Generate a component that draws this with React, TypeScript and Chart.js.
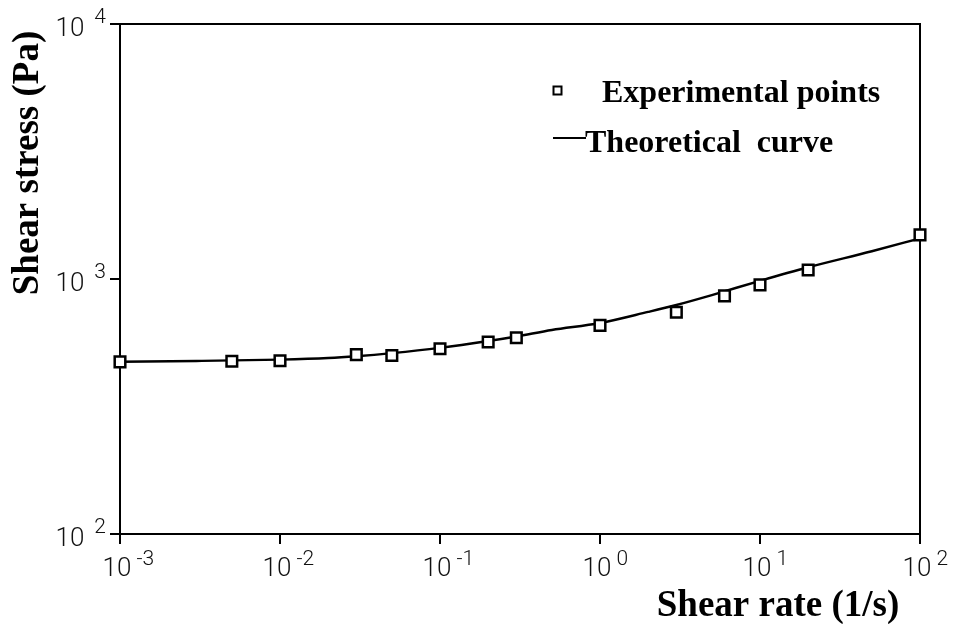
import React, { useEffect, useRef } from "react";
import { Chart, registerables } from "chart.js";

Chart.register(...registerables);

// Experimental points (shear rate 1/s, shear stress Pa)
const expRate = [0.001, 0.005, 0.01, 0.03, 0.05, 0.1, 0.2, 0.3, 1, 3, 6, 10, 20, 100];
const expStress = [473, 476, 478, 505, 501, 533, 566, 588, 658, 741, 859, 948, 1084, 1489];

// Theoretical curve
const theoRate = [0.001, 0.003, 0.01, 0.02, 0.03, 0.05, 0.1, 0.2, 0.3, 0.5, 1, 2, 3, 5, 10, 20, 50, 100];
const theoStress = [474, 477, 483, 490, 498, 512, 537, 571, 595, 631, 672, 743, 791, 865, 984, 1112, 1285, 1443];

// Axis ticks (powers of ten)
const xTickExps = [-3, -2, -1, 0, 1, 2];
const yTickExps = [2, 3, 4];

const xTitle = "Shear rate (1/s)";
const yTitle = "Shear stress (Pa)";
const legendExp = "Experimental points";
const legendTheo = "Theoretical  curve";

const TICK_FONT = "300 26px Roboto, 'Open Sans', 'Liberation Sans', sans-serif";
const EXP_FONT = "300 21px Roboto, 'Open Sans', 'Liberation Sans', sans-serif";
const TITLE_FONT = "bold 37px 'Liberation Serif', 'DejaVu Serif', serif";
const LEGEND_FONT = "bold 32px 'Liberation Serif', 'DejaVu Serif', serif";

const expLabel = (e: number) => (e < 0 ? "-" + Math.abs(e) : String(e));

const decorPlugin = {
  id: "decor",
  beforeDatasetsDraw(chart: any) {
    const { ctx, chartArea: ca } = chart;
    ctx.save();
    ctx.strokeStyle = "#000";
    ctx.lineWidth = 2;
    ctx.beginPath();
    ctx.moveTo(ca.left, ca.top);
    ctx.lineTo(ca.right, ca.top);
    ctx.lineTo(ca.right, ca.bottom);
    ctx.stroke();
    ctx.restore();
  },
  afterDraw(chart: any) {
    const { ctx, chartArea: ca, scales } = chart;
    ctx.save();
    ctx.fillStyle = "#111";
    ctx.textBaseline = "alphabetic";

    // x tick labels
    xTickExps.forEach((e) => {
      const px = scales.x.getPixelForValue(Math.pow(10, e));
      ctx.font = TICK_FONT;
      ctx.textAlign = "center";
      const w10 = ctx.measureText("10").width;
      const cx = px - 3;
      ctx.fillText("10", cx, ca.bottom + 42);
      ctx.font = EXP_FONT;
      ctx.textAlign = "left";
      ctx.fillText(expLabel(e), cx + w10 / 2 + 5, ca.bottom + 31);
    });

    // y tick labels
    yTickExps.forEach((e) => {
      const py = scales.y.getPixelForValue(Math.pow(10, e));
      ctx.font = EXP_FONT;
      ctx.textAlign = "right";
      const expStr = expLabel(e);
      const ew = ctx.measureText(expStr).width;
      const ex = ca.left - 14;
      ctx.fillText(expStr, ex, py - 1);
      ctx.font = TICK_FONT;
      ctx.fillText("10", ex - ew - 10, py + 12);
    });

    // axis titles
    ctx.fillStyle = "#000";
    ctx.font = TITLE_FONT;
    ctx.textAlign = "center";
    ctx.fillText(xTitle, 778, ca.bottom + 82);
    ctx.save();
    ctx.translate(38, 163);
    ctx.rotate(-Math.PI / 2);
    ctx.fillText(yTitle, 0, 0);
    ctx.restore();

    // legend
    ctx.font = LEGEND_FONT;
    ctx.textAlign = "left";
    ctx.fillText(legendExp, 602, 102);
    ctx.fillText(legendTheo, 585, 152);
    ctx.strokeStyle = "#000";
    ctx.lineWidth = 2;
    ctx.strokeRect(553.5, 86.5, 8, 8);
    ctx.beginPath();
    ctx.moveTo(553, 138);
    ctx.lineTo(586, 138);
    ctx.stroke();
    ctx.restore();
  },
};

export default function App() {
  const ref = useRef<HTMLCanvasElement | null>(null);

  useEffect(() => {
    if (!ref.current) return;
    const chart = new Chart(ref.current, {
      type: "scatter",
      data: {
        datasets: [
          {
            label: "Experimental points",
            data: expRate.map((x, i) => ({ x, y: expStress[i] })),
            pointStyle: "rect",
            pointRadius: 7.5,
            pointBorderWidth: 2.5,
            pointBorderColor: "#000",
            pointBackgroundColor: "#fff",
            showLine: false,
            clip: false as any,
            order: 0,
          },
          {
            label: "Theoretical curve",
            data: theoRate.map((x, i) => ({ x, y: theoStress[i] })),
            showLine: true,
            borderColor: "#000",
            borderWidth: 2.4,
            pointRadius: 0,
            cubicInterpolationMode: "monotone",
            order: 1,
          },
        ],
      },
      options: {
        responsive: false,
        animation: false,
        devicePixelRatio: 1,
        layout: { padding: { left: 120, right: 41, top: 24, bottom: 90 } },
        plugins: { legend: { display: false }, tooltip: { enabled: false } },
        scales: {
          x: {
            type: "logarithmic",
            min: 1e-3,
            max: 1e2,
            afterBuildTicks: (s: any) => {
              s.ticks = xTickExps.map((e) => ({ value: Math.pow(10, e) }));
            },
            afterFit: (s: any) => {
              s.height = 0;
            },
            ticks: { display: false },
            grid: {
              display: true,
              drawOnChartArea: false,
              drawTicks: true,
              tickLength: 10,
              color: "#000",
              lineWidth: 2,
            },
            border: { display: true, color: "#000", width: 2 },
          },
          y: {
            type: "logarithmic",
            min: 1e2,
            max: 1e4,
            afterBuildTicks: (s: any) => {
              s.ticks = yTickExps.map((e) => ({ value: Math.pow(10, e) }));
            },
            afterFit: (s: any) => {
              s.width = 0;
            },
            ticks: { display: false },
            grid: {
              display: true,
              drawOnChartArea: false,
              drawTicks: true,
              tickLength: 10,
              color: "#000",
              lineWidth: 2,
            },
            border: { display: true, color: "#000", width: 2 },
          },
        },
      } as any,
      plugins: [decorPlugin],
    });
    return () => chart.destroy();
  }, []);

  return (
    <div style={{ position: "fixed", left: 0, top: 0, width: 961, height: 624, background: "#fff" }}>
      <canvas ref={ref} width={961} height={624} style={{ display: "block" }} />
    </div>
  );
}
